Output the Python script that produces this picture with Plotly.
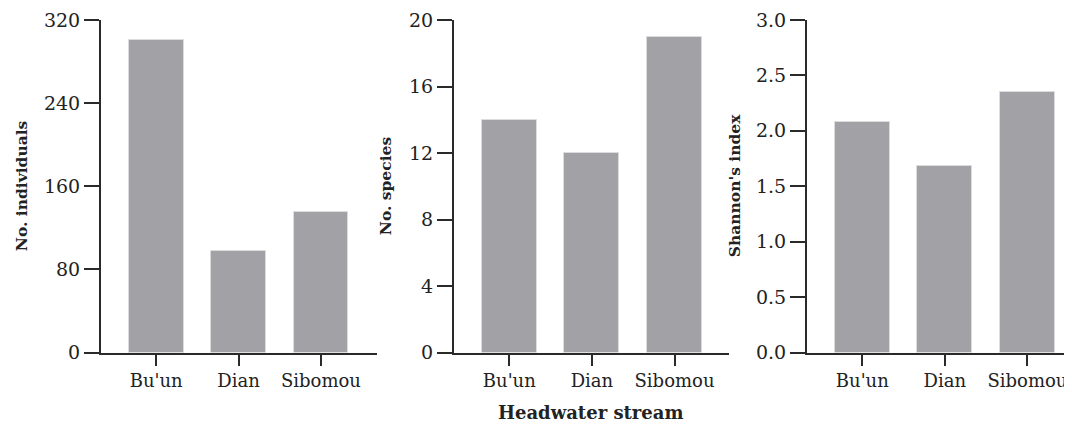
import plotly.graph_objects as go

streams = ["Bu'un", "Dian", "Sibomou"]
individuals = [301, 98, 135]
species = [14, 12, 19]
shannon = [2.08, 1.68, 2.35]

OFF = 8  # page body margin
W, H = 1072 - OFF, 429 - OFF
FONT = "DejaVu Serif"
BAR = "#a2a1a6"
AX = "#2a2a2a"


def px(x):
    return (x - OFF) / W


def py(y):
    return 1 - (y - OFF) / H


panels = [
    dict(vals=individuals, title="No. individuals", yr=[0, 320], dt=80, fmt="d",
         xd=(101, 377), xr=[-0.67, 2.68], tx=21),
    dict(vals=species, title="No. species", yr=[0, 20], dt=4, fmt="d",
         xd=(454, 729), xr=[-0.67, 2.66], tx=385),
    dict(vals=shannon, title="Shannon's index", yr=[0, 3], dt=0.5, fmt=".1f",
         xd=(807, 1072), xr=[-0.67, 2.54], tx=734),
]

fig = go.Figure()
y0, y1 = py(352.5), py(20)
anns = []
for i, p in enumerate(panels, start=1):
    sfx = "" if i == 1 else str(i)
    fig.add_trace(go.Bar(x=streams, y=p["vals"], width=0.667,
                         marker=dict(color=BAR, line=dict(color="#dcdcdc", width=1)),
                         xaxis="x" + sfx, yaxis="y" + sfx, showlegend=False))
    fig.layout["xaxis" + sfx] = dict(
        domain=[max(0, px(p["xd"][0])), min(1, px(p["xd"][1]))], range=p["xr"],
        type="category",
        anchor="y" + sfx, showline=True, linecolor=AX, linewidth=2,
        ticks="outside", ticklen=11, tickwidth=2, tickcolor=AX,
        showgrid=False, zeroline=False, automargin=False,
        tickfont=dict(family=FONT, size=18, color="#222"))
    fig.layout["yaxis" + sfx] = dict(
        domain=[y0, y1], range=p["yr"], dtick=p["dt"], tick0=0, tickformat=p["fmt"],
        anchor="x" + sfx, showline=True, linecolor=AX, linewidth=2,
        ticks="outside", ticklen=15, tickwidth=2, tickcolor=AX,
        showgrid=False, zeroline=False, automargin=False,
        tickfont=dict(family=FONT, size=19, color="#222"))
    anns.append(dict(text="<b>" + p["title"] + "</b>", xref="paper", yref="paper",
                     x=px(p["tx"]), y=(y0 + y1) / 2, textangle=-90, showarrow=False,
                     xanchor="center", yanchor="middle",
                     font=dict(family=FONT, size=15.5, color="#222")))

anns.append(dict(text="<b>Headwater stream</b>", xref="paper", yref="paper",
                 x=px(590), y=py(412), showarrow=False, xanchor="center",
                 yanchor="middle", font=dict(family=FONT, size=18, color="#222")))

fig.update_layout(width=W, height=H, margin=dict(l=0, r=0, t=0, b=0),
                  plot_bgcolor="white", paper_bgcolor="white",
                  annotations=anns, bargap=0)
fig.write_html("out.html")
